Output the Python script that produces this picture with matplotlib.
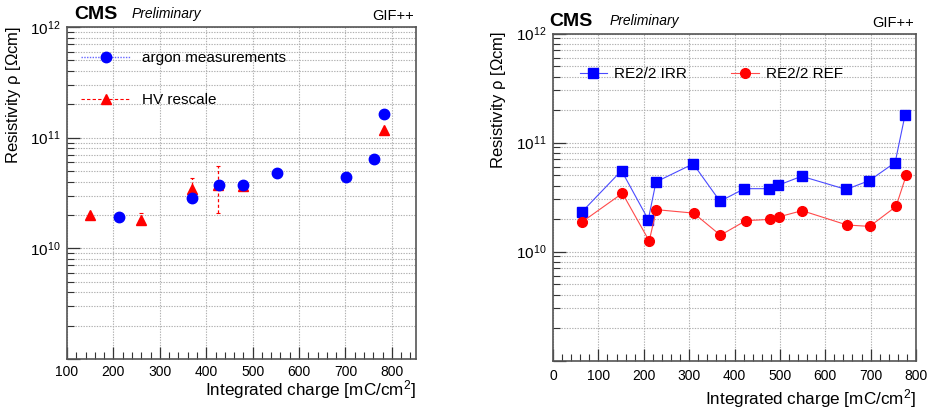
import matplotlib
matplotlib.use("Agg")
import matplotlib.pyplot as plt
from matplotlib.lines import Line2D
from matplotlib.ticker import FixedLocator, NullFormatter, MultipleLocator
import numpy as np

plt.rcParams['font.family'] = ['Liberation Sans', 'DejaVu Sans']
plt.rcParams['mathtext.default'] = 'regular'

# ---- left panel: argon measurements and HV-rescaled estimate ----
argon_charge = [213, 370, 427, 480, 552, 702, 762, 784]
argon_rho = [1.93e10, 2.83e10, 3.74e10, 3.74e10, 4.83e10, 4.39e10, 6.46e10, 1.64e11]

hv_charge = [150, 260, 370, 426, 480, 784]
hv_rho = [2.0e10, 1.8e10, 3.42e10, 3.74e10, 3.66e10, 1.17e11]
hv_rho_low = [2.0e10, 1.66e10, 2.64e10, 2.1e10, 3.66e10, 1.17e11]
hv_rho_high = [2.0e10, 2.1e10, 4.36e10, 5.55e10, 3.66e10, 1.17e11]

# ---- right panel: irradiated vs reference chamber ----
irr_charge = [63, 151, 210, 227, 309, 368, 422, 476, 496, 548, 646, 697, 754, 776]
irr_rho = [2.29e10, 5.52e10, 1.96e10, 4.35e10, 6.37e10, 2.89e10, 3.77e10, 3.77e10,
           4.05e10, 4.9e10, 3.71e10, 4.47e10, 6.55e10, 1.8e11]

ref_charge = [65, 153, 212, 228, 310, 369, 425, 478, 498, 549, 648, 698, 756, 779]
ref_rho = [1.88e10, 3.42e10, 1.25e10, 2.42e10, 2.25e10, 1.41e10, 1.92e10, 1.97e10,
           2.08e10, 2.37e10, 1.75e10, 1.70e10, 2.59e10, 5.08e10]

x_ticks_left = [100, 200, 300, 400, 500, 600, 700, 800]
x_ticks_right = [0, 100, 200, 300, 400, 500, 600, 700, 800]

W, H = 927, 412
fig = plt.figure(figsize=(W / 100, H / 100), dpi=100)

ax1 = fig.add_axes([67 / W, 1 - 359 / H, 349 / W, 332 / H])
ax2 = fig.add_axes([553 / W, 1 - 360.5 / H, 363 / W, 327 / H])

grid_kw = dict(color='#b0b0b0', linestyle=(0, (1.2, 1.2)), linewidth=0.8)
spine_color = '#555555'


def style_axes(ax, xlim, xticks, xpad, xlabelpad):
    ax.set_yscale('log')
    ax.set_ylim(1e9, 1e12)
    ax.set_xlim(*xlim)
    ax.set_xticks(xticks)
    ax.xaxis.set_minor_locator(MultipleLocator(20))
    ax.yaxis.set_major_locator(FixedLocator([1e9, 1e10, 1e11, 1e12]))
    minors = [m * 10 ** e for e in (9, 10, 11) for m in range(2, 10)]
    ax.yaxis.set_minor_locator(FixedLocator(minors))
    ax.yaxis.set_minor_formatter(NullFormatter())
    ax.set_yticklabels(['', r'$10^{10}$', r'$10^{11}$', r'$10^{12}$'])
    ax.tick_params(axis='both', which='both', direction='in', colors='#333333',
                   labelcolor='black', top=False, right=False)
    ax.tick_params(axis='x', labelsize=10, pad=xpad)
    ax.tick_params(axis='y', labelsize=11, pad=5)
    ax.tick_params(axis='both', which='major', length=9, width=0.9)
    ax.tick_params(axis='both', which='minor', length=5, width=0.8)
    ax.grid(True, which='major', axis='both', **grid_kw)
    ax.grid(True, which='minor', axis='y', **grid_kw)
    ax.set_axisbelow(True)
    for s in ax.spines.values():
        s.set_color(spine_color)
        s.set_linewidth(1.2)
    ax.set_ylabel(r'Resistivity $\rho$ [$\Omega$cm]', fontsize=12)
    ax.set_xlabel(r'Integrated charge [mC/cm$^2$]', fontsize=12.3, loc='right',
                  labelpad=xlabelpad)


style_axes(ax1, (100, 852), x_ticks_left, 4, 0)
style_axes(ax2, (0, 800), x_ticks_right, 6, 3)
ax1.yaxis.set_label_coords(-0.126, 0.795)
ax2.yaxis.set_label_coords(-0.124, 0.797)

# left panel marks
hv_err = [np.array(hv_rho) - np.array(hv_rho_low), np.array(hv_rho_high) - np.array(hv_rho)]
eb = ax1.errorbar(hv_charge, hv_rho, yerr=hv_err, fmt='^', color='red', ms=7.5,
                  ecolor='red', elinewidth=0.9, capsize=1.5, capthick=0.8, zorder=3)
eb[2][0].set_linestyle((0, (2.5, 2)))
ax1.plot(argon_charge, argon_rho, 'o', color='blue', ms=7.5, linestyle='none', zorder=4)

h_argon = Line2D([], [], color='#6666ff', linestyle=(0, (1, 1)), linewidth=1,
                 marker='o', markersize=7.5, markerfacecolor='blue', markeredgecolor='blue')
h_hv = Line2D([], [], color='red', linestyle=(0, (3, 2)), linewidth=0.8,
              marker='^', markersize=7.5, markerfacecolor='red', markeredgecolor='red')
ax1.legend([h_argon, h_hv], ['argon measurements', 'HV rescale'], frameon=False,
           fontsize=11, loc='upper left', bbox_to_anchor=(0.0, 0.968),
           handlelength=3.3, handletextpad=0.7, labelspacing=1.8, borderpad=0.4)

# right panel marks
ax2.plot(irr_charge, irr_rho, '-s', color='#4a4aff', lw=0.8, ms=6.5,
         markerfacecolor='blue', markeredgecolor='blue', label='RE2/2 IRR', zorder=3)
ax2.plot(ref_charge, ref_rho, '-o', color='#ff4a4a', lw=0.8, ms=7,
         markerfacecolor='red', markeredgecolor='red', label='RE2/2 REF', zorder=3)
ax2.legend(ncol=2, frameon=False, fontsize=11, loc='upper left',
           bbox_to_anchor=(0.04, 0.935), handlelength=1.8, handletextpad=0.45,
           columnspacing=2.9, borderpad=0.3)

# headers
for ax, dx in ((ax1, 0.02), (ax2, -0.01)):
    ax.text(dx, 1.012, 'CMS', transform=ax.transAxes, fontsize=14, fontweight='bold',
            ha='left', va='bottom')
    ax.text(dx + 0.165, 1.018, 'Preliminary', transform=ax.transAxes, fontsize=10,
            style='italic', ha='left', va='bottom')
    ax.text(0.995, 1.012, 'GIF++', transform=ax.transAxes, fontsize=10.5,
            ha='right', va='bottom')

fig.savefig('out.png', dpi=100, facecolor='white')
